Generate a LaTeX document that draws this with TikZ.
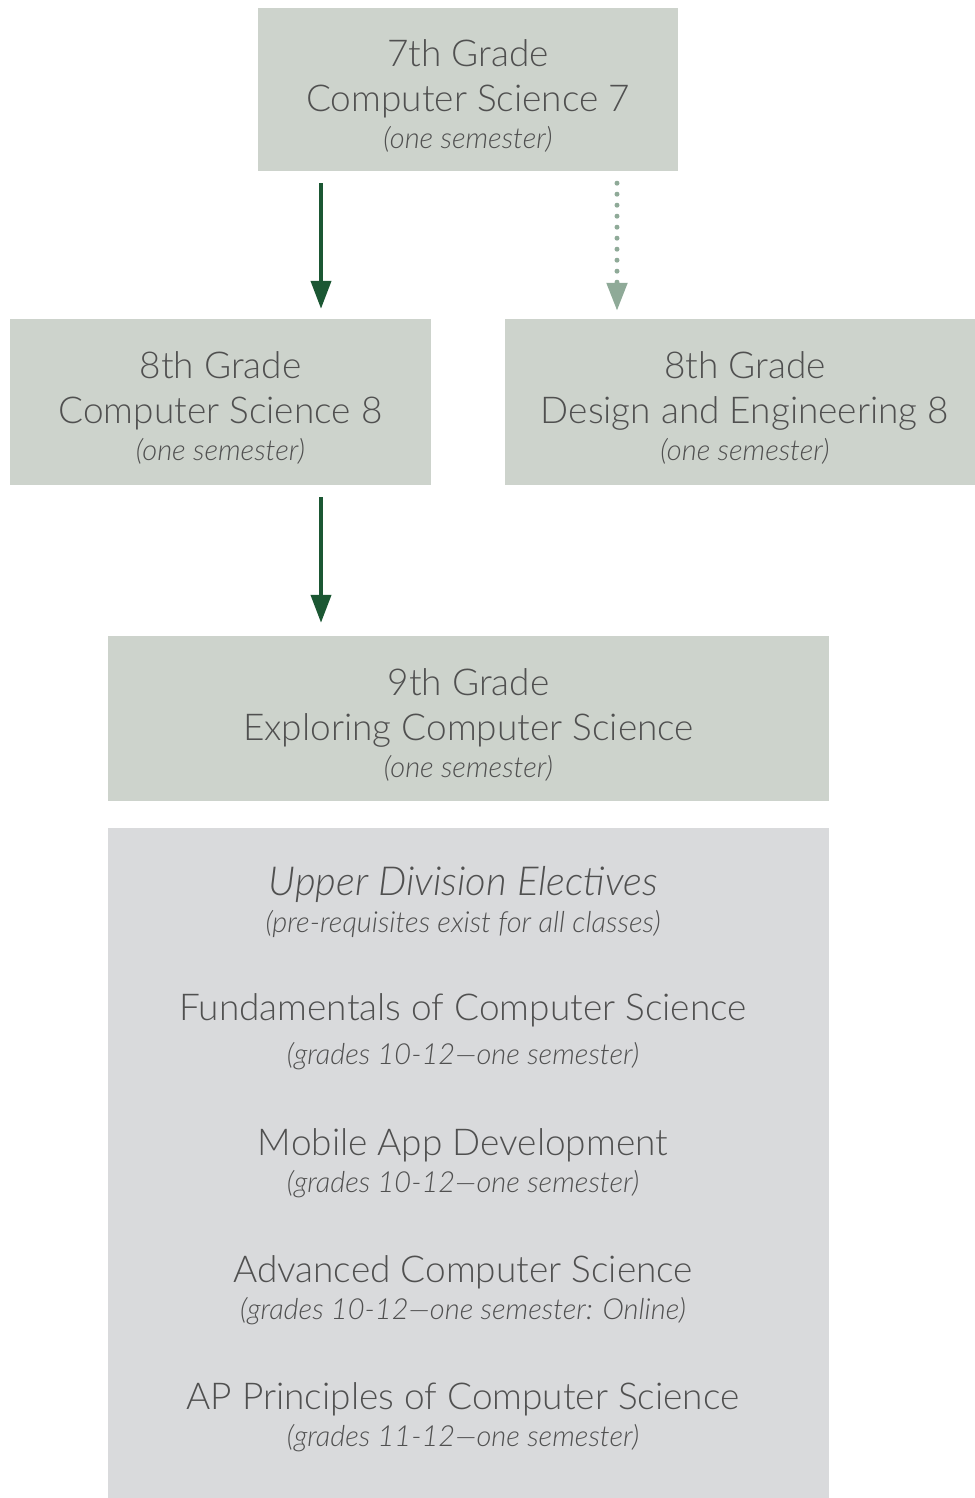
\documentclass[tikz,border=0pt]{standalone}
\usepackage{fontspec}
\setmainfont{Lato}[UprightFont=* Light, ItalicFont=* Light Italic]
\usetikzlibrary{arrows.meta}
\definecolor{boxgreen}{HTML}{CDD3CC}
\definecolor{boxgray}{HTML}{D9DADC}
\definecolor{txtgray}{HTML}{505050}
\definecolor{darkgreen}{HTML}{1B5733}
\definecolor{palegreen}{HTML}{8FAA98}
\newcommand{\subline}[1]{{\fontsize{29}{40}\selectfont\itshape #1}}
\newcommand{\toppad}{\rule{0pt}{39pt}}
\tikzset{
  course/.style={fill=boxgreen,draw=none,inner sep=0pt,align=center,text=txtgray,
    font=\fontsize{37}{45}\selectfont},
  elective/.style={align=center,text=txtgray,inner sep=0pt,font=\fontsize{37}{45}\selectfont},
  strongarr/.style={draw=darkgreen,line width=4pt,-{Triangle[width=20pt,length=28pt]}},
  optarr/.style={draw=palegreen,line width=5pt,line cap=round,dash pattern=on 0pt off 11pt,
    -{Triangle[width=20pt,length=28pt,line cap=butt,sep=-2pt]}}
}
\begin{document}
\begin{tikzpicture}[x=1pt,y=-1pt]
  \useasboundingbox (0,0) rectangle (974,1498);
  \node[course,minimum width=420,minimum height=163] (cs7) at (468,89.5)
    {\toppad 7th Grade\\ Computer Science 7\\[-8pt] \subline{(one semester)}};
  \node[course,minimum width=421,minimum height=166] (cs8) at (220.5,402)
    {\toppad 8th Grade\\ Computer Science 8\\[-8pt] \subline{(one semester)}};
  \node[course,minimum width=480,minimum height=166] (de8) at (745,402)
    {\toppad 8th Grade\\ Design and Engineering 8\\[-8pt] \subline{(one semester)}};
  \node[course,minimum width=721,minimum height=165] (ecs9) at (468.5,718.5)
    {\toppad 9th Grade\\ Exploring Computer Science\\[-8pt] \subline{(one semester)}};
  % electives block
  \fill[boxgray] (108,828) rectangle (829,1498);
  \node[elective] (upper) at (463,901.5)
    {{\fontsize{40}{45}\selectfont\itshape Upper Division Electives}\\[-8pt] \subline{(pre-requisites exist for all classes)}};
  \node[elective] (fcs) at (463,1031.5)
    {Fundamentals of Computer Science\\[-1pt] \subline{(grades 10-12—one semester)}};
  \node[elective] (mad) at (463,1163.5)
    {Mobile App Development\\[-8pt] \subline{(grades 10-12—one semester)}};
  \node[elective] (acs) at (463,1290.5)
    {Advanced Computer Science\\[-8pt] \subline{(grades 10-12—one semester: Online)}};
  \node[elective] (apcs) at (463,1417.5)
    {AP Principles of Computer Science\\[-8pt] \subline{(grades 11-12—one semester)}};
  % arrows
  \coordinate (leftlane) at (321,0);
  \coordinate (rightlane) at (617,0);
  \draw[strongarr,shorten <=12pt,shorten >=10pt] (cs7.south -| leftlane) -- (cs8.north -| leftlane);
  \draw[optarr,shorten <=12pt,shorten >=10pt] (cs7.south -| rightlane) -- (de8.north -| rightlane);
  \draw[strongarr,shorten <=12pt,shorten >=13pt] (cs8.south -| leftlane) -- (ecs9.north -| leftlane);
\end{tikzpicture}
\end{document}
